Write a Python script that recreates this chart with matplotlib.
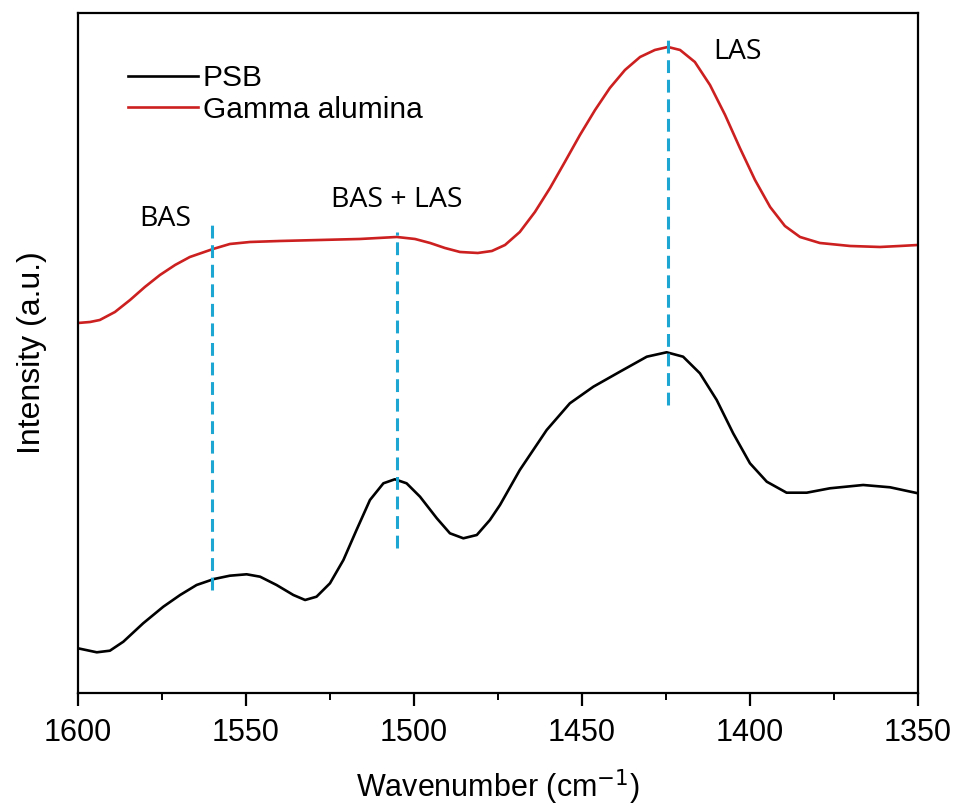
import numpy as np
import matplotlib.pyplot as plt

# wavenumber (cm-1) and intensity (a.u., spectra offset vertically)
psb_wn = [1600, 1594.4, 1590.5, 1586.5, 1580.6, 1574.6, 1569.6, 1564.7, 1559.5, 1554.8,
          1549.8, 1545.8, 1540.9, 1535.9, 1532.4, 1529, 1525, 1521, 1517.1, 1513.1,
          1509.1, 1505.7, 1502.2, 1498.2, 1493.2, 1489.3, 1485.3, 1481.3, 1477.4, 1474.4,
          1468.5, 1460.5, 1453.6, 1446.6, 1438.7, 1430.7, 1424.8, 1419.9, 1414.9, 1409.9,
          1405, 1400, 1395, 1389.1, 1383.1, 1376.2, 1366.3, 1358.3, 1350]
psb_int = [44.7, 40.7, 42.3, 51.3, 69.7, 86.3, 98, 108, 114, 117.3,
           118.7, 116.3, 108, 98, 93, 96.3, 109.7, 133, 163, 193,
           209.7, 213.7, 209.7, 196.3, 174.7, 159.7, 154.7, 158, 173, 188,
           223, 263, 289.7, 306.3, 321.3, 336.3, 340.7, 336.3, 319.7, 293,
           259.7, 229.7, 211.3, 200.3, 200.3, 204.7, 208, 205.7, 199.7]

gam_wn = [1600, 1596.4, 1593.5, 1589, 1584.5, 1580.1, 1575.6, 1571.1, 1566.7, 1559.8,
          1554.8, 1548.8, 1539.9, 1528, 1516.1, 1505.1, 1499.7, 1495.2, 1490.8, 1486.3,
          1481, 1476.8, 1472.9, 1468.5, 1464, 1459.5, 1455.1, 1450.6, 1446.1, 1441.7,
          1437.2, 1432.7, 1428.3, 1424.4, 1420.8, 1416.4, 1411.9, 1407.4, 1403, 1398.5,
          1394, 1389.6, 1385.1, 1379.2, 1370.2, 1361.3, 1355.4, 1350]
gam_int = [370, 371, 373, 381, 393, 406, 418, 428, 436, 444,
           449, 451, 452, 453, 454, 456, 454, 450, 445, 441,
           440, 442, 448, 461, 481, 505, 531, 558, 583, 605,
           623, 636, 643, 646, 643, 631, 608, 578, 545, 513,
           486, 467, 456, 450, 447, 446, 447, 448]

markers = [1560, 1505, 1424.4]
marker_spans = [(103, 471), (145, 461), (288, 655)]
labels = ["BAS", "BAS + LAS", "LAS"]
label_pos = [(1574.1, 474), (1505, 493), (1403.6, 641)]

fig = plt.figure(figsize=(9.58, 8.11), dpi=100)
ax = fig.add_axes([0.0814, 0.1455, 0.8768, 0.8385])

ax.plot(psb_wn, psb_int, color='black', lw=1.9, label='PSB')
ax.plot(gam_wn, gam_int, color='#cc1f1f', lw=1.9, label='Gamma alumina')

for x, (y0, y1) in zip(markers, marker_spans):
    ax.plot([x, x], [y0, y1], ls=(0, (4.2, 2.2)), color='#1ea6d3', lw=2.2)

for t, (x, y) in zip(labels, label_pos):
    ax.text(x, y, t, ha='center', va='center', fontsize=20.5, family='Open Sans')

ax.set_xlim(1600, 1350)
ax.set_ylim(0, 680)
ax.set_yticks([])
ax.set_xticks([1600, 1550, 1500, 1450, 1400, 1350])
ax.set_xticks(np.arange(1350, 1601, 25), minor=True)
ax.tick_params(axis='x', which='major', direction='out', length=9, width=1.6,
               labelsize=22, pad=9)
ax.tick_params(axis='x', which='minor', direction='out', length=5, width=1.4)
for s in ax.spines.values():
    s.set_linewidth(1.6)

ax.set_xlabel('Wavenumber (cm$^{-1}$)', fontsize=22, labelpad=14)
ax.set_ylabel('Intensity (a.u.)', fontsize=23, labelpad=22)
for lab in ax.get_xticklabels():
    lab.set_family('Liberation Sans')
ax.xaxis.label.set_family('Liberation Sans')
ax.yaxis.label.set_family('Liberation Sans')

ax.legend(loc='upper left', bbox_to_anchor=(0.0595, 0.925), frameon=False,
          prop={'family': 'Liberation Sans', 'size': 21.5}, handlelength=2.35,
          handletextpad=0.16, labelspacing=0.12, borderpad=0, borderaxespad=0)

fig.savefig('out.png', dpi=100)
